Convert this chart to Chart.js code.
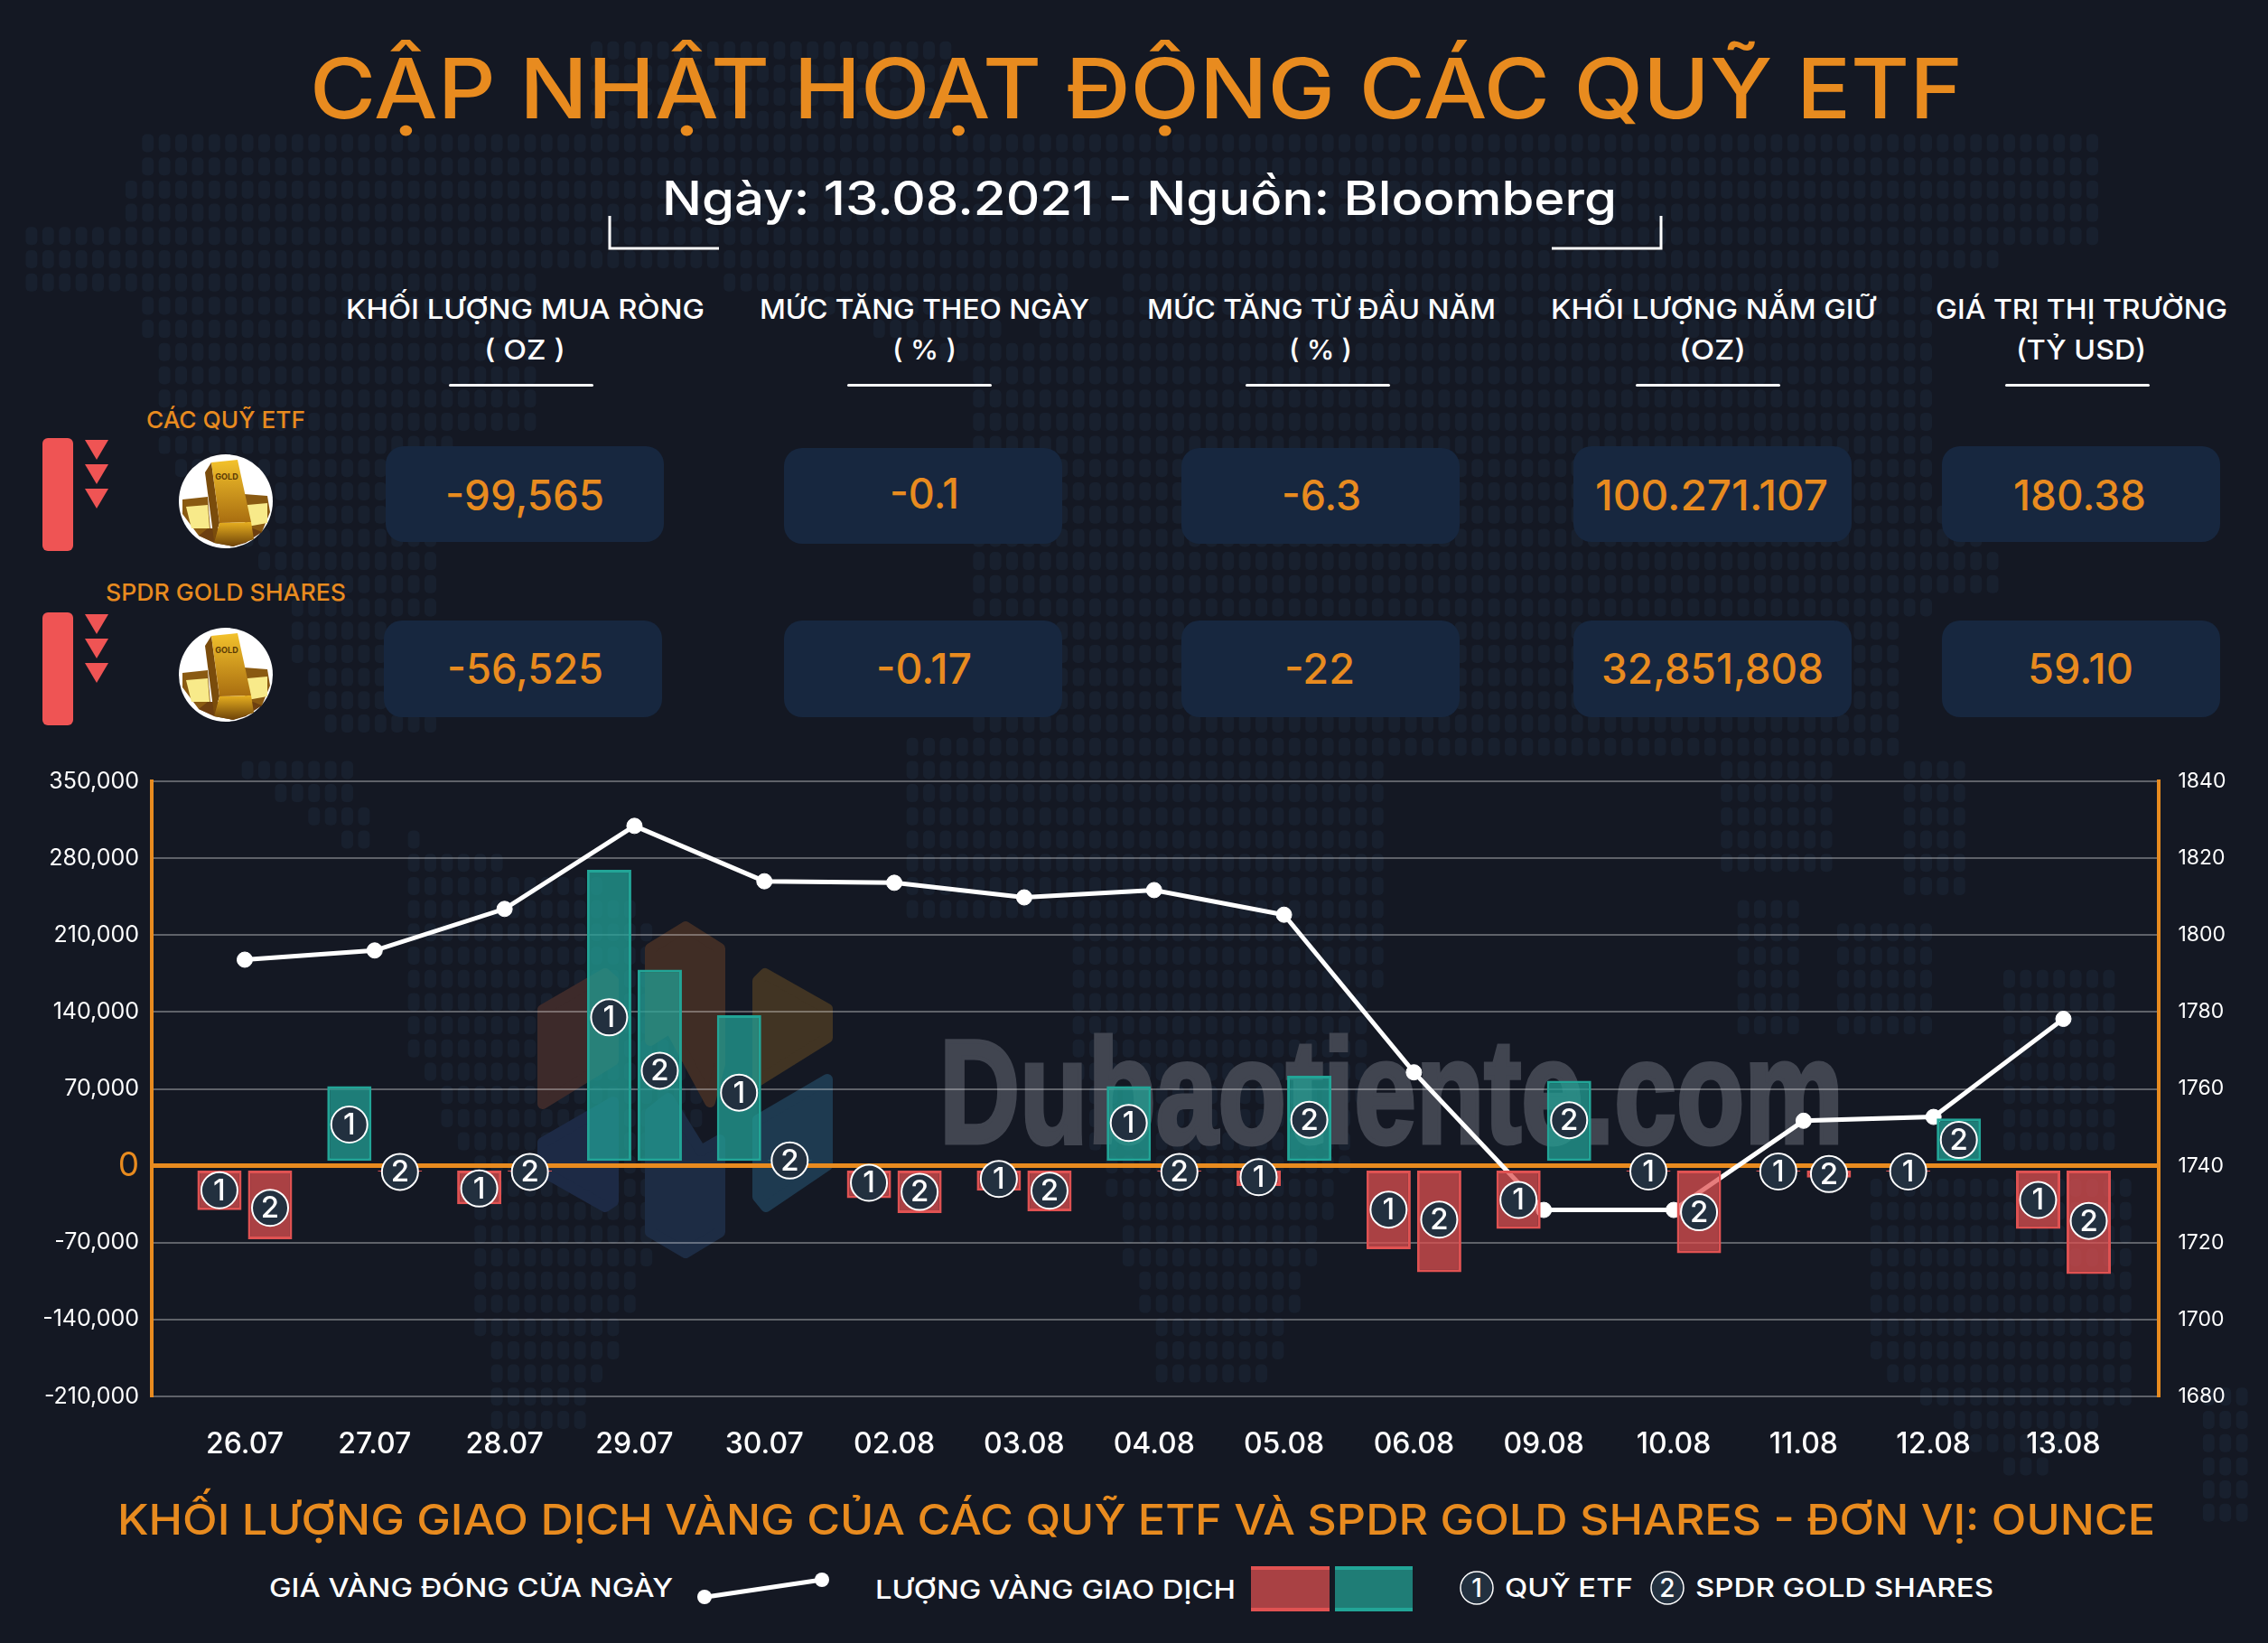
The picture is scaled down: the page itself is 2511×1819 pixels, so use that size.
<!DOCTYPE html>
<html lang="vi">
<head>
<meta charset="utf-8">
<title>Cập nhật hoạt động các quỹ ETF</title>
<script src="https://cdn.jsdelivr.net/npm/chart.js@4"></script>
<style>
  html, body { margin: 0; padding: 0; background: #141823; }
  #page { position: relative; width: 2511px; height: 1819px; overflow: hidden; background: #141823; }
  #backdrop, #overlay { position: absolute; left: 0; top: 0; }
  #flows { position: absolute; left: 0; top: 830px; }
  text { font-family: Inter, "Noto Sans", sans-serif; }
</style>
</head>
<body>
<div id="page">
  <svg id="backdrop" width="2511" height="1819" xmlns="http://www.w3.org/2000/svg">
    <g id="worldDots" fill="#18202e"></g>
    <!-- logo behind the bars -->
    <g stroke-linejoin="round" stroke-width="12">
      <polygon fill="#3d2a2a" stroke="#3d2a2a" points="601,1118 670,1078 679,1086 679,1174 601,1222"/>
      <polygon fill="#402d25" stroke="#402d25" points="720,1050 759,1026 797,1050 797,1178 786,1220 742,1138 720,1152"/>
      <polygon fill="#413423" stroke="#413423" points="839,1086 847,1078 916,1117 916,1149 839,1197"/>
      <polygon fill="#1d2a45" stroke="#1d2a45" points="601,1265 679,1220 679,1330 670,1336 601,1297"/>
      <polygon fill="#1d2c44" stroke="#1d2c44" points="720,1232 740,1216 776,1274 797,1262 797,1364 759,1387 720,1364"/>
      <polygon fill="#1e3a50" stroke="#1e3a50" points="839,1240 916,1195 916,1290 848,1336 839,1325"/>
    </g>
    <text x="1040" y="1265" font-size="164" font-weight="700" fill="#414550" stroke="#414550" stroke-width="5" textLength="1001" lengthAdjust="spacingAndGlyphs" style="font-family:'Liberation Sans Narrow','Liberation Sans',sans-serif">Dubaotiente.com</text>
  </svg>
  <svg id="overlay" width="2511" height="1819" xmlns="http://www.w3.org/2000/svg"></svg>
  <canvas id="flows" width="2511" height="800"></canvas>
</div>

<script>
"use strict";

// Chart data
const DAYS = ["26.07", "27.07", "28.07", "29.07", "30.07", "02.08", "03.08", "04.08",
              "05.08", "06.08", "09.08", "10.08", "11.08", "12.08", "13.08"];
const ETF_FLOWS = [-40300, 72500, -35000, 269500, 137000, -29500, -22700, 72500,
                   -18300, -76000, -57400, -5200, -5200, -5200, -57400];
const SPDR_FLOWS = [-67000, -5200, -5200, 178600, 5000, -43000, -41500, -5200,
                    82000, -96900, 77300, -79700, -10800, 43000, -98500];
const GOLD_PRICE = [1793.6, 1796, 1806.8, 1828.4, 1814, 1813.6, 1809.8, 1811.7,
                    1805.3, 1764.3, 1728.5, 1728.5, 1751.7, 1752.7, 1778.2];
// height (in ounces) where the numbered circles sit
const ETF_BADGE_AT = [-22300, 37500, -20700, 135100, 66600, -15500, -12000, 39000,
                      -10400, -39900, -31100, -5200, -5200, -5200, -31100];
const SPDR_BADGE_AT = [-38300, -5600, -5600, 86500, 4800, -23800, -22700, -5600,
                       41900, -49000, 41500, -42300, -7600, 23500, -50200];

// Header table
const COLUMN_TITLES = ["KHỐI LƯỢNG MUA RÒNG", "MỨC TĂNG THEO NGÀY", "MỨC TĂNG TỪ ĐẦU NĂM",
                       "KHỐI LƯỢNG NẮM GIỮ", "GIÁ TRỊ THỊ TRƯỜNG"];
const COLUMN_UNITS = ["( OZ )", "( % )", "( % )", "(OZ)", "(TỶ USD)"];
const ETF_STATS = ["-99,565", "-0.1", "-6.3", "100.271.107", "180.38"];
const SPDR_STATS = ["-56,525", "-0.17", "-22", "32,851,808", "59.10"];

const ORANGE = "#e88b1f";
const WHITE = "#ffffff";
const BAR_GAP = 4400;        // bars float just off the zero line
const BADGE_SHIFT = 0.195;   // half a bar slot, in category units

// rough land outlines for the dotted map behind everything (decoration only)
const LAND = [
  [[150,150],[1256,146],[1256,300],[1130,320],[1080,400],[720,290],[590,300],[590,470],[500,480],[480,816],[360,816],[300,640],[170,500],[160,320],[20,320],[20,250],[140,240]],
  [[656,47],[1056,47],[1056,146],[656,146]],
  [[240,830],[370,830],[400,860],[410,950],[340,900]],
  [[450,925],[700,990],[780,1150],[770,1250],[680,1500],[640,1590],[540,1590],[520,1300],[440,1130]],
  [[1080,400],[1256,300],[1256,146],[2330,146],[2330,271],[2136,300],[2136,540],[2216,620],[2216,660],[2100,680],[2100,830],[1530,830],[1530,1024],[1520,1200],[1400,1545],[1290,1545],[1193,1200],[1193,1024],[1000,1024],[1000,830],[1080,800]],
  [[1905,845],[2030,845],[2030,975],[1905,975]],
  [[2108,850],[2175,850],[2175,990],[2108,990]],
  [[1925,1000],[2000,1000],[2000,1140],[1925,1140]],
  [[2031,1030],[2147,1030],[2147,1150],[2031,1150]],
  [[2219,1082],[2349,1082],[2349,1266],[2219,1266]],
  [[2060,1315],[2370,1315],[2370,1546],[2240,1640],[2060,1500]],
  [[2440,1530],[2500,1530],[2500,1700],[2440,1700]],
];

// ---- header, table and legend (plain svg) ----
const SVGNS = "http://www.w3.org/2000/svg";
const overlay = document.getElementById("overlay");

function el(name, attrs, parent) {
  const n = document.createElementNS(SVGNS, name);
  Object.keys(attrs).forEach((k) => n.setAttribute(k, attrs[k]));
  (parent || overlay).appendChild(n);
  return n;
}

// whole dots only, so the coast stays ragged like in the original
function drawWorldDots() {
  const ctx = document.createElement("canvas").getContext("2d");
  const paths = LAND.map((pts) => {
    const p = new Path2D();
    pts.forEach((q, i) => (i ? p.lineTo(q[0], q[1]) : p.moveTo(q[0], q[1])));
    p.closePath();
    return p;
  });
  const host = document.getElementById("worldDots");
  for (let y = 20; y < 1810; y += 25.7) {
    for (let x = 10; x < 2505; x += 18.4) {
      if (paths.some((p) => ctx.isPointInPath(p, x + 6.5, y + 10))) {
        el("rect", { x: x.toFixed(1), y: y.toFixed(1), width: 13, height: 20, rx: 5 }, host);
      }
    }
  }
}

// text squeezed/stretched to the measured left and right edges
function label(str, x0, x1, base, size, weight, fill) {
  const t = el("text", { x: x0, y: base, "font-size": size, "font-weight": weight, fill: fill,
                         textLength: x1 - x0, lengthAdjust: "spacingAndGlyphs" });
  t.textContent = str;
}

function card(x, y, w, h) {
  el("rect", { x, y, width: w, height: h, rx: 20, fill: "#17273f" });
}

function downMarks(top) {
  el("rect", { x: 47, y: top, width: 34, height: 125, rx: 6, fill: "#ef5454" });
  [2, 29, 56].forEach((d) => {
    const y = top + d;
    el("polygon", { points: `94,${y} 120,${y} 107,${y + 22}`, fill: "#ef5454" });
  });
}

function goldIcon(cx, cy) {
  const g = el("g", { transform: `translate(${cx},${cy})` });
  el("circle", { r: 52, fill: "#ffffff" }, g);
  el("polygon", { points: "-48,-2 -20,-5 -16,44 -30,38 -48,14", fill: "#8a5a12" }, g);
  el("polygon", { points: "-44,6 -20,4 -18,30 -38,30", fill: "#f8ea8a" }, g);
  el("polygon", { points: "20,-8 46,-6 49,12 40,34 22,44", fill: "#8a5a12" }, g);
  el("polygon", { points: "24,4 46,2 46,24 24,28", fill: "#f8ea8a" }, g);
  el("polygon", { points: "-30,38 -13,46 8,50 22,46 40,34 30,30 -20,30", fill: "#6d3f10" }, g);
  el("polygon", { points: "-23,-32 -16,-43 -7,24 -13,44", fill: "#7a4c0c" }, g);
  el("polygon", { points: "-16,-43 13,-46 28,23 -7,24", fill: "url(#goldFace)" }, g);
  el("polygon", { points: "-7,24 28,23 31,42 8,50 -13,46", fill: "url(#goldFoot)" }, g);
  const t = el("text", { x: 1, y: -24, "font-size": 9, "font-weight": 700, fill: "#5a3a05",
                         "text-anchor": "middle" }, g);
  t.textContent = "GOLD";
}

function legendBadge(cx, cy, str) {
  el("circle", { cx, cy, r: 18, fill: "#22303f", stroke: WHITE, "stroke-width": 1.5 });
  const t = el("text", { x: cx, y: cy + 10, "font-size": 28, "font-weight": 500, fill: WHITE,
                         "text-anchor": "middle" });
  t.textContent = str;
}

function drawHeader() {
  const defs = el("defs", {});
  const face = el("linearGradient", { id: "goldFace", x1: 0, y1: 0, x2: 0, y2: 1 }, defs);
  el("stop", { offset: "0", "stop-color": "#f3c22c" }, face);
  el("stop", { offset: "1", "stop-color": "#a86d10" }, face);
  const foot = el("linearGradient", { id: "goldFoot", x1: 0, y1: 0, x2: 0, y2: 1 }, defs);
  el("stop", { offset: "0", "stop-color": "#e8b020" }, foot);
  el("stop", { offset: "1", "stop-color": "#6d4208" }, foot);

  label("CẬP NHẬT HOẠT ĐỘNG CÁC QUỸ ETF", 343, 2173, 131, 92, 500, ORANGE);
  label("Ngày: 13.08.2021 - Nguồn: Bloomberg", 733, 1790, 238, 52, 500, WHITE);
  el("polyline", { points: "675,239 675,275 796,275", fill: "none", stroke: WHITE, "stroke-width": 3 });
  el("polyline", { points: "1718,275 1839,275 1839,239", fill: "none", stroke: WHITE, "stroke-width": 3 });

  const titleEdges = [[383, 780], [841, 1206], [1270, 1656], [1717, 2077], [2143, 2466]];
  const unitEdges = [[536, 626], [988, 1059], [1427, 1497], [1859, 1933], [2232, 2376]];
  const ruleLeft = [497, 938, 1379, 1811, 2220];
  COLUMN_TITLES.forEach((s, i) => {
    label(s, titleEdges[i][0], titleEdges[i][1], 353, 30, 500, WHITE);
    label(COLUMN_UNITS[i], unitEdges[i][0], unitEdges[i][1], 398, 30, 500, WHITE);
    el("rect", { x: ruleLeft[i], y: 425, width: 160, height: 3, rx: 1.5, fill: WHITE });
  });

  label("CÁC QUỸ ETF", 162, 338, 474, 26, 500, ORANGE);
  label("SPDR GOLD SHARES", 117, 383, 665, 26, 500, ORANGE);
  downMarks(485);
  downMarks(678);
  goldIcon(250, 555);
  goldIcon(250, 747);

  const row1Cards = [[427, 494], [868, 496], [1308, 496], [1742, 494], [2150, 494]];
  const row2Cards = [[425, 687], [868, 687], [1308, 687], [1742, 687], [2150, 687]];
  row1Cards.forEach((c) => card(c[0], c[1], 308, 106));
  row2Cards.forEach((c) => card(c[0], c[1], 308, 107));
  const row1Edges = [[493, 669], [985, 1062], [1419, 1507], [1766, 2024], [2229, 2376]];
  const row2Edges = [[495, 668], [970, 1076], [1422, 1500], [1773, 2019], [2245, 2362]];
  ETF_STATS.forEach((s, i) => label(s, row1Edges[i][0], row1Edges[i][1], i === 1 ? 563 : 565, 46, 500, ORANGE));
  SPDR_STATS.forEach((s, i) => label(s, row2Edges[i][0], row2Edges[i][1], 757, 46, 500, ORANGE));

  label("KHỐI LƯỢNG GIAO DỊCH VÀNG CỦA CÁC QUỸ ETF VÀ SPDR GOLD SHARES - ĐƠN VỊ: OUNCE", 130, 2386, 1699, 47, 500, ORANGE);
  label("GIÁ VÀNG ĐÓNG CỬA NGÀY", 298, 745, 1768, 28, 500, WHITE);
  el("line", { x1: 782, y1: 1768, x2: 910, y2: 1749, stroke: WHITE, "stroke-width": 5 });
  el("circle", { cx: 780, cy: 1768, r: 8, fill: WHITE });
  el("circle", { cx: 910, cy: 1749, r: 8, fill: WHITE });
  label("LƯỢNG VÀNG GIAO DỊCH", 969, 1368, 1770, 28, 500, WHITE);
  el("rect", { x: 1385, y: 1734, width: 87, height: 50, fill: "#a94144" });
  el("rect", { x: 1385, y: 1734, width: 87, height: 4, fill: "#e05252" });
  el("rect", { x: 1385, y: 1780, width: 87, height: 4, fill: "#e05252" });
  el("rect", { x: 1478, y: 1734, width: 86, height: 50, fill: "#1f7d76" });
  el("rect", { x: 1478, y: 1734, width: 86, height: 4, fill: "#22a597" });
  el("rect", { x: 1478, y: 1780, width: 86, height: 4, fill: "#22a597" });
  legendBadge(1635, 1758, "1");
  label("QUỸ ETF", 1666, 1808, 1768, 28, 500, WHITE);
  legendBadge(1846, 1758, "2");
  label("SPDR GOLD SHARES", 1877, 2207, 1768, 28, 500, WHITE);
}

// ---- chart ----
function flowDataset(values) {
  const colour = (v, a, b) => (v < 0 ? a : b);
  return {
    type: "bar",
    order: 2,
    data: values.map((v, i) => ({ x: i, y: [Math.sign(v) * BAR_GAP, v] })),
    backgroundColor: values.map((v) => colour(v, "rgba(222,80,80,0.74)", "rgba(34,160,150,0.74)")),
    borderColor: values.map((v) => colour(v, "#e05252", "#22a597")),
    borderWidth: 3,
    borderSkipped: false,
    categoryPercentage: 0.779,
    barPercentage: 0.875,
  };
}

function badgeDataset(values, shift, text) {
  return {
    type: "line",
    order: 1,
    badgeText: text,
    showLine: false,
    data: values.map((v, i) => ({ x: i + shift, y: v })),
    pointRadius: 20,
    pointBackgroundColor: "#22303f",
    pointBorderColor: WHITE,
    pointBorderWidth: 2,
  };
}

// writes the 1 / 2 inside the circle points
const badgeText = {
  id: "badgeText",
  afterDatasetsDraw(chart) {
    const ctx = chart.ctx;
    ctx.save();
    ctx.font = "500 33px Inter, sans-serif";
    ctx.fillStyle = WHITE;
    ctx.textAlign = "center";
    ctx.textBaseline = "middle";
    chart.data.datasets.forEach((ds, i) => {
      if (!ds.badgeText) return;
      chart.getDatasetMeta(i).data.forEach((pt) => ctx.fillText(ds.badgeText, pt.x, pt.y + 1));
    });
    ctx.restore();
  },
};

new Chart(document.getElementById("flows"), {
  type: "bar",
  plugins: [badgeText],
  data: {
    datasets: [
      {
        type: "line",
        order: 3,
        yAxisID: "yPrice",
        data: GOLD_PRICE.map((v, i) => ({ x: i, y: v })),
        borderColor: WHITE,
        borderWidth: 5,
        tension: 0,
        pointRadius: 8.5,
        pointBackgroundColor: WHITE,
        pointBorderColor: WHITE,
        pointBorderWidth: 1,
      },
      flowDataset(ETF_FLOWS),
      flowDataset(SPDR_FLOWS),
      badgeDataset(ETF_BADGE_AT, -BADGE_SHIFT, "1"),
      badgeDataset(SPDR_BADGE_AT, BADGE_SHIFT, "2"),
    ],
  },
  options: {
    responsive: false,
    animation: false,
    devicePixelRatio: 1,
    layout: { padding: { top: 35, left: 0, right: 0, bottom: 0 } },
    plugins: { legend: { display: false }, tooltip: { enabled: false } },
    scales: {
      x: {
        type: "linear",
        offset: false,
        min: -0.716,
        max: 14.73,
        afterBuildTicks: (s) => { s.ticks = DAYS.map((_, i) => ({ value: i })); },
        afterFit: (s) => { s.height = 84; },
        grid: { display: false, offset: false },
        border: { display: false },
        ticks: {
          autoSkip: false,
          maxRotation: 0,
          padding: 26,
          color: WHITE,
          font: { family: "Inter", size: 32, weight: "500" },
          callback: (v) => DAYS[v],
        },
      },
      y: {
        min: -210000,
        max: 350000,
        afterFit: (s) => { s.width = 168; },
        border: { color: ORANGE, width: 4 },
        grid: {
          drawTicks: false,
          color: (c) => (c.tick.value === 0 ? ORANGE : "rgba(255,255,255,0.32)"),
          lineWidth: (c) => (c.tick.value === 0 ? 5 : 2),
        },
        ticks: {
          stepSize: 70000,
          padding: 14,
          color: (c) => (c.tick.value === 0 ? ORANGE : WHITE),
          font: (c) => ({ family: "Inter", size: c.tick && c.tick.value === 0 ? 37 : 25, weight: "400" }),
          callback: (v) => v.toLocaleString("en-US"),
        },
      },
      yPrice: {
        position: "right",
        min: 1680,
        max: 1840,
        afterFit: (s) => { s.width = 121.5; },
        border: { color: ORANGE, width: 4 },
        grid: { display: false },
        ticks: {
          stepSize: 20,
          padding: 14,
          color: WHITE,
          font: { family: "Inter", size: 23, weight: "400" },
          callback: (v) => String(v),
        },
      },
    },
  },
});

drawWorldDots();
drawHeader();
</script>
</body>
</html>
